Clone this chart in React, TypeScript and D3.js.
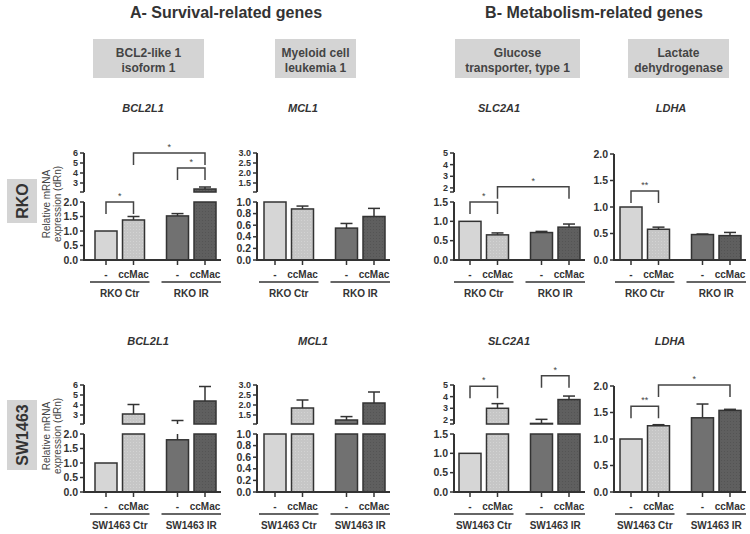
import React from "react";
import * as d3 from "d3";

// ---------- data ----------
const sectionTitles = ["A- Survival-related genes", "B- Metabolism-related genes"];
const headerLines = [
  ["BCL2-like 1", "isoform 1"],
  ["Myeloid cell", "leukemia 1"],
  ["Glucose", "transporter, type 1"],
  ["Lactate", "dehydrogenase"],
];
const geneNames = ["BCL2L1", "MCL1", "SLC2A1", "LDHA"];
const cellLines = ["RKO", "SW1463"];
const conditionLabels = ["-", "ccMac", "-", "ccMac"];
const groupLabelsRKO = ["RKO Ctr", "RKO IR"];
const groupLabelsSW = ["SW1463 Ctr", "SW1463 IR"];

const rkoBCL2L1 = [1.0, 1.38, 1.52, 2.4];
const rkoBCL2L1Err = [0, 0.12, 0.08, 0.2];
const rkoMCL1 = [1.0, 0.88, 0.55, 0.75];
const rkoMCL1Err = [0, 0.05, 0.08, 0.14];
const rkoSLC2A1 = [1.0, 0.65, 0.71, 0.85];
const rkoSLC2A1Err = [0, 0.05, 0.03, 0.08];
const rkoLDHA = [1.0, 0.58, 0.48, 0.46];
const rkoLDHAErr = [0, 0.04, 0.01, 0.06];

const swBCL2L1 = [1.0, 3.1, 1.8, 4.4];
const swBCL2L1Err = [0, 0.95, 0.65, 1.45];
const swMCL1 = [1.0, 1.85, 1.25, 2.1];
const swMCL1Err = [0, 0.4, 0.17, 0.55];
const swSLC2A1 = [1.0, 3.0, 1.7, 3.75];
const swSLC2A1Err = [0, 0.4, 0.35, 0.3];
const swLDHA = [1.0, 1.25, 1.4, 1.54];
const swLDHAErr = [0, 0.02, 0.26, 0.02];

// axis tick values per gene (lower segment, optional upper segment)
const bclLowTicks = [0, 0.5, 1.0, 1.5, 2.0];
const bclHighTicks = [3, 4, 5, 6];
const mclLowTicks = [0, 0.2, 0.4, 0.6, 0.8, 1.0];
const mclHighTicks = [1.5, 2.0, 2.5, 3.0];
const slcLowTicks = [0, 0.5, 1.0, 1.5];
const slcHighTicks = [2, 3, 4, 5];
const ldhaTicks = [0, 0.5, 1.0, 1.5, 2.0];

// significance brackets: [from bar, to bar, level (data units), label]
type Sig = [number, number, number, string];
const sigRkoBCL2L1: Sig[] = [[0, 1, 2.0, "*"], [2, 3, 4.5, "*"], [1, 3, 6.0, "*"]];
const sigRkoSLC2A1: Sig[] = [[0, 1, 1.5, "*"], [1, 3, 2.1, "*"]];
const sigRkoLDHA: Sig[] = [[0, 1, 1.3, "**"]];
const sigSwSLC2A1: Sig[] = [[0, 1, 4.9, "*"], [2, 3, 5.8, "*"]];
const sigSwLDHA: Sig[] = [[0, 1, 1.62, "**"], [1, 3, 2.02, "*"]];

// ---------- layout ----------
const FONT = "'Liberation Sans', Arial, sans-serif";
const INK = "#333";
const colAxisX = [84, 257, 454, 614];
const colFirstBar = [106, 275, 470, 631];
const geneLabelX = [
  [143, 303, 499, 671],
  [148, 313, 509, 670],
];
const rowBase = [260, 492];
const barPositions = [0, 1, 2.6, 3.6];
const STEP = 27.5;
const BAR_W = 22;
const LOW_H = 58;
const GAP = 10;
const TOP_H = 107;

type AxisDef = { lowMax: number; lowTicks: number[]; upMin?: number; upMax?: number; upTicks?: number[]; fmtLow: string; fmtHigh?: string };

const axisDefs: AxisDef[] = [
  { lowMax: 2, lowTicks: bclLowTicks, upMin: 2.1, upMax: 6, upTicks: bclHighTicks, fmtLow: ".1f", fmtHigh: "d" },
  { lowMax: 1, lowTicks: mclLowTicks, upMin: 1.05, upMax: 3, upTicks: mclHighTicks, fmtLow: ".1f", fmtHigh: ".1f" },
  { lowMax: 1.5, lowTicks: slcLowTicks, upMin: 1.65, upMax: 5, upTicks: slcHighTicks, fmtLow: ".1f", fmtHigh: "d" },
  { lowMax: 2, lowTicks: ldhaTicks, fmtLow: ".1f" },
];

type PanelData = { vals: number[]; errs: number[]; sig: Sig[] };
const panelsData: PanelData[][] = [
  [
    { vals: rkoBCL2L1, errs: rkoBCL2L1Err, sig: sigRkoBCL2L1 },
    { vals: rkoMCL1, errs: rkoMCL1Err, sig: [] },
    { vals: rkoSLC2A1, errs: rkoSLC2A1Err, sig: sigRkoSLC2A1 },
    { vals: rkoLDHA, errs: rkoLDHAErr, sig: sigRkoLDHA },
  ],
  [
    { vals: swBCL2L1, errs: swBCL2L1Err, sig: [] },
    { vals: swMCL1, errs: swMCL1Err, sig: [] },
    { vals: swSLC2A1, errs: swSLC2A1Err, sig: sigSwSLC2A1 },
    { vals: swLDHA, errs: swLDHAErr, sig: sigSwLDHA },
  ],
];

const barFills = ["#d6d6d6", "url(#dotLight)", "#717171", "url(#dotDark)"];

function Panel({ row, col }: { row: number; col: number }) {
  const def = axisDefs[col];
  const data = panelsData[row][col];
  const yB = rowBase[row];
  const axisX = colAxisX[col];
  const x = d3.scaleLinear().domain([0, 1]).range([colFirstBar[col], colFirstBar[col] + STEP]);
  const broken = def.upMin !== undefined;
  const lower = broken
    ? d3.scaleLinear().domain([0, def.lowMax]).range([yB, yB - LOW_H])
    : d3.scaleLinear().domain([0, def.lowMax]).range([yB, yB - TOP_H + 1]);
  const upper = broken
    ? d3.scaleLinear().domain([def.upMin!, def.upMax!]).range([yB - LOW_H - GAP, yB - TOP_H])
    : null;
  const y = (v: number) => {
    if (!broken || v <= def.lowMax) return lower(v);
    if (v >= def.upMin!) return upper!(v);
    return lower(def.lowMax);
  };
  const fL = d3.format(def.fmtLow);
  const fH = d3.format(def.fmtHigh || ".1f");
  const axisEnd = x(barPositions[3]) + 16;
  const groupLabels = row === 0 ? groupLabelsRKO : groupLabelsSW;

  const els: React.ReactNode[] = [];
  data.vals.forEach((v, i) => {
    const cx = x(barPositions[i]);
    const x0 = cx - BAR_W / 2;
    if (broken && v > def.lowMax) {
      els.push(<rect key={`bl${i}`} x={x0} y={lower(def.lowMax)} width={BAR_W} height={yB - lower(def.lowMax)} fill={barFills[i]} stroke={INK} strokeWidth={1.5} />);
      els.push(<rect key={`bu${i}`} x={x0} y={y(v)} width={BAR_W} height={upper!(def.upMin!) - y(v)} fill={barFills[i]} stroke={INK} strokeWidth={1.5} />);
    } else {
      els.push(<rect key={`b${i}`} x={x0} y={y(v)} width={BAR_W} height={yB - y(v)} fill={barFills[i]} stroke={INK} strokeWidth={1.5} />);
    }
    const e = data.errs[i];
    if (e > 0) {
      const top = v + e;
      if (broken && v <= def.lowMax && top >= def.upMin!) {
        els.push(<line key={`e1${i}`} x1={cx} x2={cx} y1={y(v)} y2={lower(def.lowMax)} stroke={INK} strokeWidth={1.5} />);
        els.push(<line key={`e2${i}`} x1={cx} x2={cx} y1={upper!(def.upMin!)} y2={y(top)} stroke={INK} strokeWidth={1.5} />);
      } else {
        els.push(<line key={`e${i}`} x1={cx} x2={cx} y1={y(v)} y2={y(top)} stroke={INK} strokeWidth={1.5} />);
      }
      els.push(<line key={`c${i}`} x1={cx - 6} x2={cx + 6} y1={y(top)} y2={y(top)} stroke={INK} strokeWidth={1.5} />);
    }
  });

  // y axis lower segment
  const lowTop = lower(def.lowMax);
  els.push(<line key="yl" x1={axisX} x2={axisX} y1={yB + 1} y2={lowTop} stroke={INK} strokeWidth={2} />);
  def.lowTicks.forEach((t) => {
    els.push(<line key={`tl${t}`} x1={axisX - 4} x2={axisX} y1={lower(t)} y2={lower(t)} stroke={INK} strokeWidth={1.5} />);
    els.push(<text key={`ttl${t}`} x={axisX - 6} y={lower(t)} dy="0.35em" textAnchor="end" fontSize={10.5} fontWeight="bold" fill={INK} fontFamily={FONT}>{fL(t)}</text>);
  });
  if (broken && upper) {
    const ub = upper(def.upMin!);
    els.push(<line key="yu" x1={axisX} x2={axisX} y1={ub} y2={upper(def.upMax!)} stroke={INK} strokeWidth={2} />);
    els.push(<line key="yub" x1={axisX - 4} x2={axisX} y1={ub} y2={ub} stroke={INK} strokeWidth={1.5} />);
    def.upTicks!.forEach((t) => {
      els.push(<line key={`tu${t}`} x1={axisX - 4} x2={axisX} y1={upper(t)} y2={upper(t)} stroke={INK} strokeWidth={1.5} />);
      els.push(<text key={`ttu${t}`} x={axisX - 6} y={upper(t)} dy="0.35em" textAnchor="end" fontSize={9} fontWeight="bold" fill={INK} fontFamily={FONT}>{fH(t)}</text>);
    });
  }

  // x axis
  els.push(<line key="xa" x1={axisX - 1} x2={axisEnd} y1={yB} y2={yB} stroke={INK} strokeWidth={2} />);
  conditionLabels.forEach((lab, i) => {
    const cx = x(barPositions[i]);
    els.push(<line key={`xt${i}`} x1={cx} x2={cx} y1={yB} y2={yB + 5} stroke={INK} strokeWidth={1.5} />);
    els.push(<text key={`xl${i}`} x={cx} y={yB + 18} textAnchor="middle" fontSize={10} fontWeight="bold" fill={INK} fontFamily={FONT}>{lab}</text>);
  });
  groupLabels.forEach((g, gi) => {
    const a = x(barPositions[gi * 2]);
    const b = x(barPositions[gi * 2 + 1]);
    els.push(<line key={`gl${gi}`} x1={a - 16} x2={b + 16} y1={yB + 22} y2={yB + 22} stroke={INK} strokeWidth={1.5} />);
    els.push(<text key={`gt${gi}`} x={(a + b) / 2} y={yB + 37} textAnchor="middle" fontSize={10} fontWeight="bold" fill={INK} fontFamily={FONT}>{g}</text>);
  });

  // significance brackets
  data.sig.forEach(([i, j, lvl, lab], k) => {
    const a = x(barPositions[i]);
    const b = x(barPositions[j]);
    const yl = y(lvl);
    els.push(<path key={`s${k}`} d={`M${a},${yl + 12}V${yl}H${b}V${yl + 12}`} fill="none" stroke="#444" strokeWidth={1.5} />);
    els.push(<text key={`st${k}`} x={(a + b) / 2} y={yl - 3} textAnchor="middle" fontSize={9} fill="#444" fontFamily={FONT}>{lab}</text>);
  });

  return <g>{els}</g>;
}

export default function App() {
  const headerBoxes = [
    { x: 93, w: 111 },
    { x: 275, w: 81 },
    { x: 455, w: 125 },
    { x: 628, w: 101 },
  ];
  const geneRowY = [112, 345];
  const rowBoxes = [
    { y: 179, h: 44 },
    { y: 400, h: 70 },
  ];
  return (
    <svg width={750} height={534} style={{ position: "absolute", left: 0, top: 0, background: "#fff" }} fontFamily={FONT}>
      <defs>
        <pattern id="dotLight" width={3} height={3} patternUnits="userSpaceOnUse">
          <rect width={3} height={3} fill="#c6c6c6" />
          <circle cx={1.5} cy={1.5} r={0.6} fill="#d6d6d6" />
        </pattern>
        <pattern id="dotDark" width={3} height={3} patternUnits="userSpaceOnUse">
          <rect width={3} height={3} fill="#5f5f5f" />
          <circle cx={1.5} cy={1.5} r={0.6} fill="#525252" />
        </pattern>
      </defs>
      <rect width={750} height={534} fill="#fff" />
      <text x={226} y={18} textAnchor="middle" fontSize={16} fontWeight="bold" fill={INK}>{sectionTitles[0]}</text>
      <text x={594} y={18} textAnchor="middle" fontSize={16} fontWeight="bold" fill={INK}>{sectionTitles[1]}</text>
      {headerBoxes.map((b, i) => (
        <g key={`h${i}`}>
          <rect x={b.x} y={39} width={b.w} height={39} fill="#d4d4d4" />
          <text x={b.x + b.w / 2} y={57} textAnchor="middle" fontSize={12} fontWeight="bold" fill="#444">{headerLines[i][0]}</text>
          <text x={b.x + b.w / 2} y={72} textAnchor="middle" fontSize={12} fontWeight="bold" fill="#444">{headerLines[i][1]}</text>
        </g>
      ))}
      {geneRowY.map((gy, r) =>
        geneNames.map((g, c) => (
          <text key={`g${r}${c}`} x={geneLabelX[r][c]} y={gy} textAnchor="middle" fontSize={11} fontWeight="bold" fontStyle="italic" fill={INK}>{g}</text>
        ))
      )}
      {rowBoxes.map((b, r) => (
        <g key={`rb${r}`}>
          <rect x={7} y={b.y} width={30} height={b.h} fill="#d4d4d4" />
          <text transform={`translate(28,${b.y + b.h / 2}) rotate(-90)`} textAnchor="middle" fontSize={16} fontWeight="bold" fill={INK}>{cellLines[r]}</text>
        </g>
      ))}
      {rowBase.map((yB, r) => (
        <text key={`yt${r}`} transform={`translate(50,${yB - 56}) rotate(-90)`} textAnchor="middle" fontSize={10} fill="#444">
          <tspan x={0} dy={0}>Relative mRNA</tspan>
          <tspan x={0} dy={11}>expression (dRn)</tspan>
        </text>
      ))}
      {[0, 1].map((r) => [0, 1, 2, 3].map((c) => <Panel key={`p${r}${c}`} row={r} col={c} />))}
    </svg>
  );
}
